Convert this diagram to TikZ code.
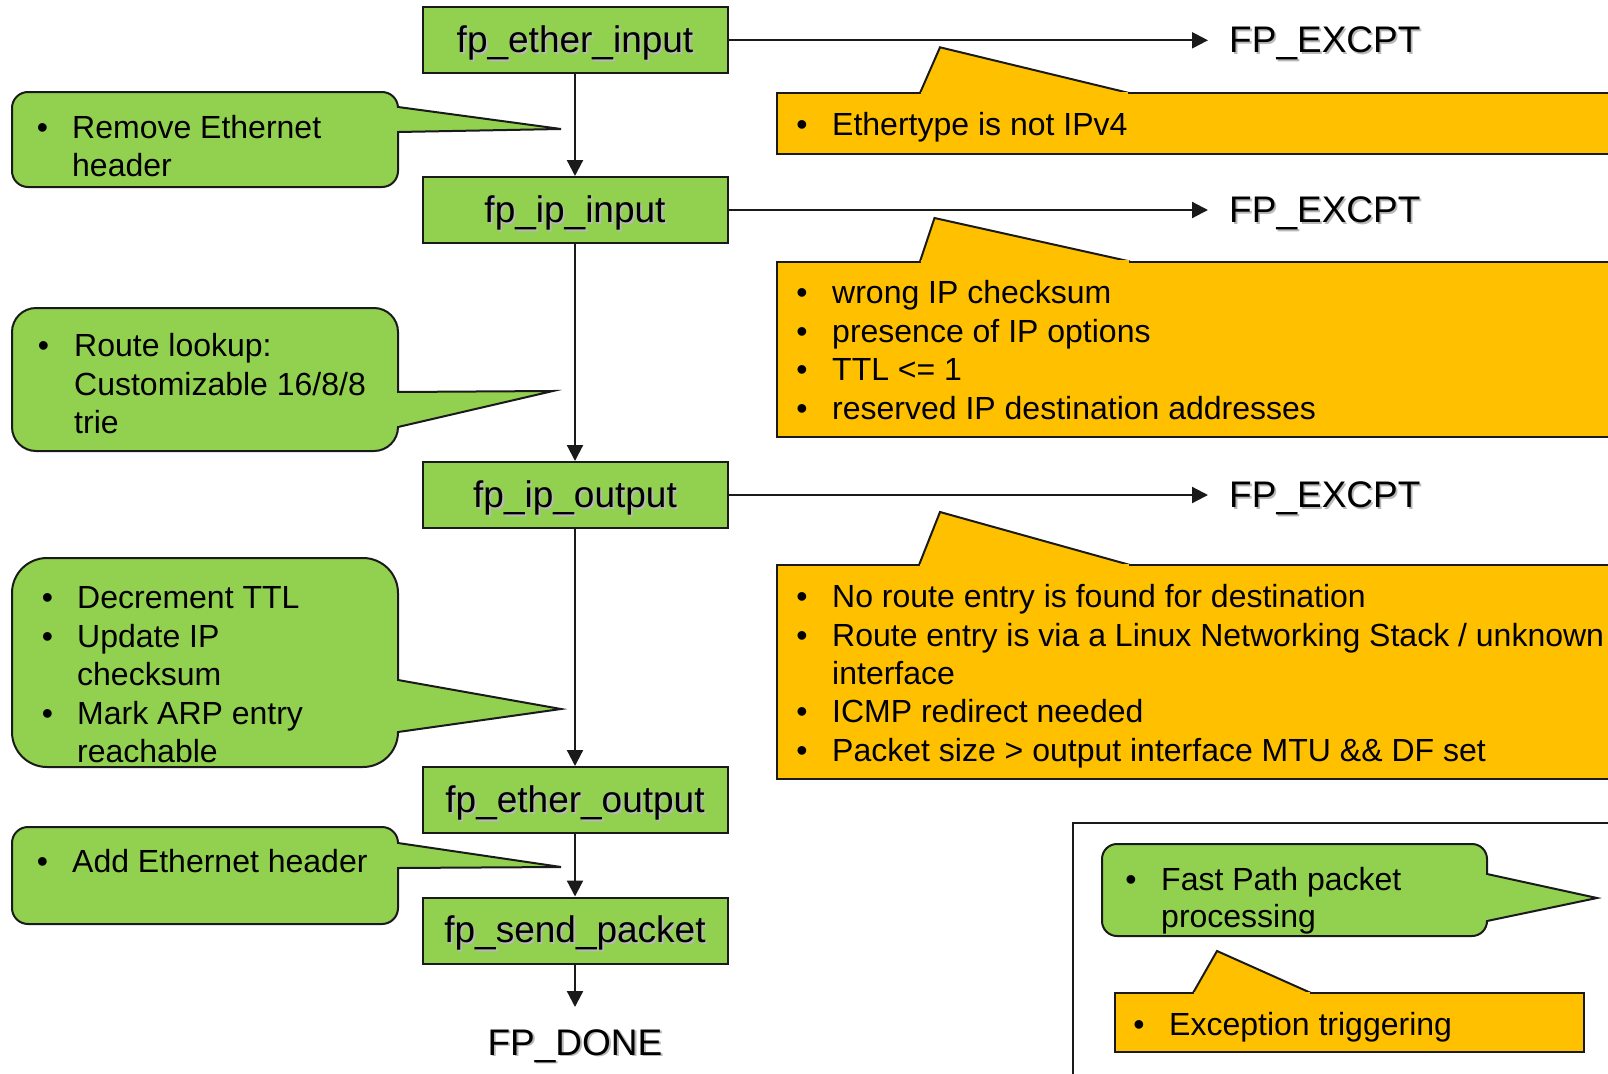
\documentclass[tikz,border=0pt]{standalone}
\usepackage{fontspec}
\setmainfont{Liberation Sans}
\usetikzlibrary{arrows.meta}

\definecolor{fpgreen}{HTML}{92D050}
\definecolor{fporange}{HTML}{FFC000}
\definecolor{edge}{HTML}{1A1A1A}

\tikzset{
  stagebox/.style={draw=edge, line width=2pt, fill=fpgreen,
    minimum width=305pt, minimum height=66pt, inner sep=0pt},
  lbl/.style={font=\fontsize{37}{44}\selectfont, inner sep=0pt,
    text height=26.5pt, text depth=1.7pt},
  lblshadow/.style={lbl, text=black!28},
  flow/.style={line width=2.2pt, edge, -{Triangle[length=16pt,width=16pt]}},
  greencall/.style={draw=edge, line width=2pt, fill=fpgreen},
  orangecall/.style={draw=edge, line width=2pt, fill=fporange},
  itemtxt/.style={font=\fontsize{32}{38}\selectfont, inner sep=0pt, anchor=base west},
  bullettxt/.style={font=\fontsize{32}{38}\selectfont, inner sep=0pt, anchor=base},
}

% a processing stage: green box with a shadowed label
\newcommand\stage[4]{% name, x, y, text
  \node[stagebox] (#1) at (#2,#3) {};
  \node[lblshadow] (#1-shadow) at (#2+1.8,#3+1.8) {#4};
  \node[lbl] (#1-text) at (#2,#3) {#4};
}
% a label standing on its own (exception / done markers)
\newcommand\marker[5]{% name, anchor, x, y, text
  \node[lblshadow, anchor=#2] (#1-shadow) at (#3+1.8,#4+1.8) {#5};
  \node[lbl, anchor=#2] (#1) at (#3,#4) {#5};
}
% bulleted line and continuation line
\newcommand\bulletline[5]{%
  \node[bullettxt] (#1-dot) at (#2,#4) {\textbullet};
  \node[itemtxt] (#1) at (#3,#4) {#5};
}
\newcommand\moreline[4]{%
  \node[itemtxt] (#1) at (#2,#3) {#4};
}
% green rounded callout with a pointer on its right side
% x0, y0, x1, y1, radius, upper joint y, tip x, tip y, lower joint y
\newcommand\greencallout[9]{%
  \draw[greencall, rounded corners=#5pt] (#1,#2) rectangle (#3,#4);
  \draw[greencall] (#3,#6) -- (#7,#8) -- (#3,#9);
  \fill[fpgreen] (#3-1.6,#6+1.3) rectangle (#3+1.2,#9-1.3);
}
% orange rectangular callout with a pointer on its top side
% x0, y0, x1, y1, left base x, apex x, apex y, right base x
\newcommand\orangecallout[8]{%
  \draw[orangecall] (#1,#2) rectangle (#3,#4);
  \draw[orangecall] (#5,#2) -- (#6,#7) -- (#8,#2);
  \fill[fporange] (#5+1.3,#2-1.2) rectangle (#8-1.3,#2+1.6);
}

\begin{document}
\begin{tikzpicture}[x=1pt, y=-1pt]
\path[use as bounding box] (0,0) rectangle (1608,1073);
\clip (0,0) rectangle (1608,1073);

% ---- left-hand notes ----
\greencallout{12}{92}{398}{187}{16}{107}{561}{129}{132}
\bulletline{n1a}{42.5}{72}{138.5}{Remove Ethernet}
\moreline{n1b}{72}{176.5}{header}

\greencallout{12}{308}{398}{451}{24}{392}{553}{391}{427}
\bulletline{n2a}{43.5}{74}{356}{Route lookup:}
\moreline{n2b}{74}{395}{Customizable 16/8/8}
\moreline{n2c}{74}{433}{trie}

\greencallout{12}{558}{398}{767}{35}{680}{561}{709}{732}
\bulletline{n3a}{47.5}{77}{608}{Decrement TTL}
\bulletline{n3b}{47.5}{77}{647}{Update IP}
\moreline{n3c}{77}{685}{checksum}
\bulletline{n3d}{47.5}{77}{724}{Mark ARP entry}
\moreline{n3e}{77}{762}{reachable}

\greencallout{12}{827}{398}{924}{16}{843}{561}{867}{868}
\bulletline{n4a}{42.5}{72}{872}{Add Ethernet header}

% ---- exception reasons ----
\orangecallout{777}{93}{1620}{154}{920}{940}{47.3}{1129}
\bulletline{e1a}{802}{832}{135.4}{Ethertype is not IPv4}

\orangecallout{777}{261.5}{1620}{437}{920}{934.5}{218}{1130}
\bulletline{e2a}{802}{832}{303.5}{wrong IP checksum}
\bulletline{e2b}{802}{832}{342.5}{presence of IP options}
\bulletline{e2c}{802}{832}{380.5}{TTL <= 1}
\bulletline{e2d}{802}{832}{419.5}{reserved IP destination addresses}

\orangecallout{777}{565}{1620}{779}{919}{940}{512}{1130}
\bulletline{e3a}{802}{832}{607}{No route entry is found for destination}
\bulletline{e3b}{802}{832}{646}{Route entry is via a Linux Networking Stack / unknown}
\moreline{e3c}{832}{684}{interface}
\bulletline{e3d}{802}{832}{722}{ICMP redirect needed}
\bulletline{e3e}{802}{832}{761}{Packet size > output interface MTU \&\& DF set}

% ---- legend ----
\draw[line width=1.6pt, edge] (1073,1090) -- (1073,823) -- (1620,823);
\greencallout{1102}{844}{1487}{936}{15}{874}{1597}{898}{921}
\bulletline{l1a}{1131}{1161}{890}{Fast Path packet}
\moreline{l1b}{1161}{927}{processing}
\orangecallout{1115}{993}{1584}{1052}{1193}{1217}{951}{1311}
\bulletline{l2a}{1139}{1169}{1035}{Exception triggering}

% ---- processing chain ----
\stage{b1}{575}{40.3}{fp\_ether\_input}
\stage{b2}{575}{210}{fp\_ip\_input}
\stage{b3}{575}{495}{fp\_ip\_output}
\stage{b4}{575}{800}{fp\_ether\_output}
\stage{b5}{575}{930.5}{fp\_send\_packet}

\coordinate (x1) at (1208,40.3);
\coordinate (x2) at (1208,210);
\coordinate (x3) at (1208,495);
\marker{ex1}{west}{1229}{40.3}{FP\_EXCPT}
\marker{ex2}{west}{1229}{210}{FP\_EXCPT}
\marker{ex3}{west}{1229}{495}{FP\_EXCPT}
\marker{done}{center}{575}{1042.6}{FP\_DONE}
\coordinate (donetop) at (575,1007);

\draw[flow] (b1.south) -- (b2.north);
\draw[flow] (b2.south) -- (b3.north);
\draw[flow] (b3.south) -- (b4.north);
\draw[flow] (b4.south) -- (b5.north);
\draw[flow] (b5.south) -- (donetop);
\draw[flow] (b1.east) -- (x1);
\draw[flow] (b2.east) -- (x2);
\draw[flow] (b3.east) -- (x3);
\end{tikzpicture}
\end{document}
